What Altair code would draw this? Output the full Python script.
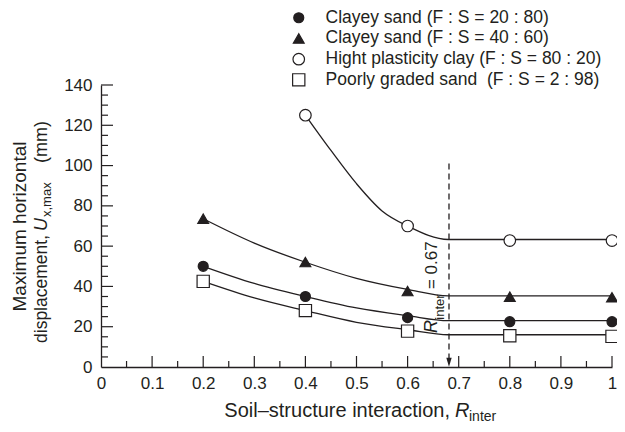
import altair as alt
import pandas as pd

INK = "#231f20"
FONT = "Liberation Sans"

# ---- categories / legend ----
series = [
    "Clayey sand (F : S = 20 : 80)",
    "Clayey sand (F : S = 40 : 60)",
    "Hight plasticity clay (F : S = 80 : 20)",
    "Poorly graded sand\u00a0 (F : S = 2 : 98)",
]
shapes = ["circle", "triangle-up", "circle", "square"]
fills = [INK, INK, "white", "white"]
strokes = [INK, INK, INK, INK]
sizes = [100, 150, 78, 78]

# ---- measured points ----
x_pts = [0.2, 0.4, 0.6, 0.8, 1.0]
cs20_pts = [50, 35, 24.5, 22.5, 22.5]
cs40_pts = [73.6, 52.1, 37.7, 34.9, 34.6]
clay_x = [0.4, 0.6, 0.8, 1.0]
clay_pts = [125, 70, 62.8, 62.8]
pgs_pts = [42.5, 28, 17.8, 15.5, 15.2]

# ---- fitted curves ----
curve_x = [0.2, 0.3, 0.4, 0.5, 0.6, 0.68, 1.0]
cs20_curve = [50, 41.5, 35, 29.3, 25.5, 23, 23]
cs40_curve = [73.6, 61.5, 52, 44, 38.5, 35.3, 35.3]
pgs_curve = [42.5, 34.3, 28, 22.2, 18.5, 16, 16]
clay_curve_x = [0.4, 0.45, 0.5, 0.55, 0.6, 0.68, 1.0]
clay_curve = [125, 107.5, 91, 77.5, 70, 63.3, 63.3]

# ---- ticks ----
x_ticks = [0, 0.1, 0.2, 0.3, 0.4, 0.5, 0.6, 0.7, 0.8, 0.9, 1.0]
x_minor = [0.05, 0.15, 0.25, 0.35, 0.45, 0.55, 0.65, 0.75, 0.85, 0.95]
y_ticks = [0, 20, 40, 60, 80, 100, 120, 140]
y_minor = [5, 10, 15, 25, 30, 35, 45, 50, 55, 65, 70, 75, 85, 90, 95,
           105, 110, 115, 125, 130, 135]

# ---- annotation ----
r_line_x = 0.681
r_line_top = 101

W, H = 511, 282

pts = pd.DataFrame(
    [{"x": x, "y": y, "series": series[0]} for x, y in zip(x_pts, cs20_pts)]
    + [{"x": x, "y": y, "series": series[1]} for x, y in zip(x_pts, cs40_pts)]
    + [{"x": x, "y": y, "series": series[2]} for x, y in zip(clay_x, clay_pts)]
    + [{"x": x, "y": y, "series": series[3]} for x, y in zip(x_pts, pgs_pts)]
)
curves = pd.DataFrame(
    [{"x": x, "y": y, "series": series[0]} for x, y in zip(curve_x, cs20_curve)]
    + [{"x": x, "y": y, "series": series[1]} for x, y in zip(curve_x, cs40_curve)]
    + [{"x": x, "y": y, "series": series[2]} for x, y in zip(clay_curve_x, clay_curve)]
    + [{"x": x, "y": y, "series": series[3]} for x, y in zip(curve_x, pgs_curve)]
)

xs = alt.Scale(domain=[0, 1], nice=False, zero=False)
ys = alt.Scale(domain=[0, 140], nice=False)

# invisible layer that carries the axes
axes = alt.Chart(pts).mark_point(opacity=0).encode(
    x=alt.X("x:Q", scale=xs, axis=alt.Axis(
        orient="bottom", values=x_ticks, ticks=False, tickSize=0, domain=True,
        domainColor=INK, domainWidth=1.3, labelFont=FONT, labelFontSize=17,
        labelColor=INK, labelPadding=8, grid=False, title=None,
        labelFlush=False, labelOverlap=False,
        labelExpr="datum.value == 0 ? '0' : datum.value == 1 ? '1' : format(datum.value, '.1f')",
    )),
    y=alt.Y("y:Q", scale=ys, axis=alt.Axis(
        orient="left", values=y_ticks, ticks=False, tickSize=0, domain=True,
        domainColor=INK, domainWidth=1.3, labelFont=FONT, labelFontSize=17,
        labelColor=INK, labelPadding=9, grid=False, title=None,
        labelFlush=False, labelOverlap=False,
    )),
)

lines = alt.Chart(curves).mark_line(
    interpolate="monotone", color=INK, strokeWidth=1.3
).encode(
    x=alt.X("x:Q", scale=xs, axis=None),
    y=alt.Y("y:Q", scale=ys, axis=None),
    detail="series:N",
)

leg = dict(
    orient="none", legendX=189, legendY=-76, title=None,
    labelFont=FONT, labelFontSize=17.5, labelColor=INK, labelOffset=18,
    padding=0, rowPadding=1.7, labelLimit=400,
    symbolStrokeColor=INK, symbolStrokeWidth=1.2,
)

points = alt.Chart(pts).mark_point(
    filled=True, strokeWidth=1.2, opacity=1
).encode(
    x=alt.X("x:Q", scale=xs, axis=None),
    y=alt.Y("y:Q", scale=ys, axis=None),
    shape=alt.Shape("series:N", scale=alt.Scale(domain=series, range=shapes), legend=alt.Legend(**leg)),
    fill=alt.Fill("series:N", scale=alt.Scale(domain=series, range=fills), legend=alt.Legend(**leg)),
    stroke=alt.Stroke("series:N", scale=alt.Scale(domain=series, range=strokes), legend=alt.Legend(**leg)),
    size=alt.Size("series:N", scale=alt.Scale(domain=series, range=sizes), legend=alt.Legend(**leg)),
)


# inward-pointing ticks drawn from the tick lists
def xtick_layer(vals, length):
    return alt.Chart(pd.DataFrame({"x": vals})).mark_rule(color=INK, strokeWidth=1.2).encode(
        x=alt.X("x:Q", scale=xs, axis=None),
        y=alt.value(H), y2=alt.value(H - length),
    )


def ytick_layer(vals, length):
    return alt.Chart(pd.DataFrame({"y": vals})).mark_rule(color=INK, strokeWidth=1.2).encode(
        y=alt.Y("y:Q", scale=ys, axis=None),
        x=alt.value(0), x2=alt.value(length),
    )


ticks = [xtick_layer(x_ticks[1:], 11), xtick_layer(x_minor, 6),
         ytick_layer(y_ticks[1:], 12), ytick_layer(y_minor, 7)]

ann = pd.DataFrame({"x": [r_line_x], "y": [r_line_top], "y2": [4]})
dash = alt.Chart(ann).mark_rule(color=INK, strokeWidth=1.3, strokeDash=[6, 4]).encode(
    x=alt.X("x:Q", scale=xs, axis=None),
    y=alt.Y("y:Q", scale=ys, axis=None),
    y2="y2:Q",
)
arrow = alt.Chart(pd.DataFrame({"x": [r_line_x], "y": [2.3]})).mark_point(
    shape="M-0.6,-1L0.6,-1L0,1Z", filled=True, color=INK, size=81, opacity=1
).encode(
    x=alt.X("x:Q", scale=xs, axis=None),
    y=alt.Y("y:Q", scale=ys, axis=None),
)

rt = pd.DataFrame({
    "x": [0.657, 0.671, 0.657],
    "y": [16.9, 23.5, 38.7],
    "t": ["R", "inter", "= 0.67"],
    "fs": [18, 13, 17],
    "st": ["italic", "normal", "normal"],
})
r_text = alt.layer(*[
    alt.Chart(rt.iloc[[i]]).mark_text(
        angle=270, align="left", baseline="alphabetic", font=FONT,
        fontSize=int(rt.fs[i]), fontStyle=rt.st[i], color=INK
    ).encode(
        x=alt.X("x:Q", scale=xs, axis=None),
        y=alt.Y("y:Q", scale=ys, axis=None),
        text="t:N",
    )
    for i in range(len(rt))
])

one = pd.DataFrame({"a": [0]})


def ptext(txt, px, py, fs, angle=0, align="left", style="normal"):
    return alt.Chart(one).mark_text(
        text=txt, angle=angle, align=align, baseline="alphabetic", font=FONT,
        fontSize=fs, fontStyle=style, color=INK
    ).encode(x=alt.value(px), y=alt.value(py))


ox, oy = 101, 85
titles = [
    ptext("Soil\u2013structure interaction,", 450 - ox, 417 - oy, 20, align="right"),
    ptext("R", 455 - ox, 417 - oy, 20, style="italic"),
    ptext("inter", 469 - ox, 421 - oy, 14),
    ptext("Maximum horizontal", 26 - ox, 226.5 - oy, 19, angle=270, align="center"),
    ptext("displacement,", 47 - ox, 235 - oy, 17.5, angle=270, align="right"),
    ptext("U", 47 - ox, 231 - oy, 18, angle=270, style="italic"),
    ptext("x,max", 51 - ox, 217 - oy, 13, angle=270),
    ptext("(mm)", 47 - ox, 163 - oy, 18, angle=270),
]

chart = alt.layer(
    axes, *ticks, lines, dash, arrow, points, r_text, *titles
).resolve_axis(
    x="independent", y="independent"
).properties(
    width=W, height=H,
    autosize=alt.AutoSizeParams(type="none"),
    padding={"left": 93, "top": 77, "right": 5, "bottom": 56},
    background="white",
).configure_view(stroke=None)

chart.save("out.html", embed_options={"renderer": "svg", "actions": False})
